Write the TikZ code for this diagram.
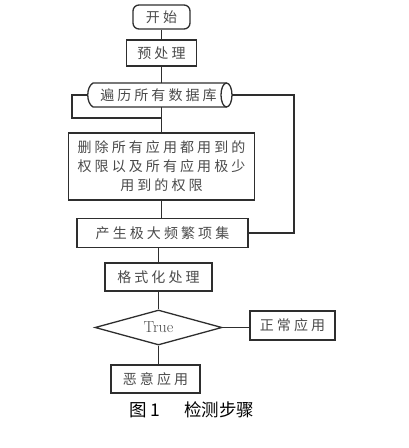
\documentclass[tikz,border=0pt]{standalone}
\usepackage{fontspec}
\newfontfamily\cjk[LetterSpace=22]{Noto Sans CJK SC}
\newfontfamily\cjkcap{Noto Sans CJK SC}
\usetikzlibrary{shapes.geometric}
\definecolor{ln}{HTML}{2E2E2E}
\definecolor{tx}{HTML}{4A4A4A}
\tikzset{
  line/.style={draw=ln, line width=1.3pt},
  box/.style={line, rectangle, inner sep=0pt, text=tx, font=\cjk\fontsize{14}{19}\selectfont, align=center},
  txt/.style={inner sep=0pt, text=tx, font=\cjk\fontsize{14}{19}\selectfont},
}
\begin{document}
\begin{tikzpicture}[x=1pt,y=-1pt]
\useasboundingbox (0,0) rectangle (409,448);
\node[box, rounded corners=6pt, minimum width=57pt, minimum height=24pt] (start) at (161.5,17) {开始};
\node[box, minimum width=70pt, minimum height=26pt] (pre) at (161.5,53) {预处理};
% cylinder
\coordinate (cylW) at (87,95);
\coordinate (cylE) at (232,95);
\coordinate (cylT) at (161.5,83);
\coordinate (cylB) at (161.5,107);
\draw[line] (226.5,83) -- (93,83) .. controls (86,87) and (86,103) .. (93,107) -- (226.5,107);
\draw[line] (226.5,95) ellipse [x radius=5.5pt, y radius=12pt];
\node[txt] (cyl) at (158.5,95) {遍历所有数据库};
\node[box, minimum width=186pt, minimum height=67pt] (del) at (161.5,166.5) {删除所有应用都用到的\\权限以及所有应用极少\\用到的权限};
\node[box, minimum width=171pt, minimum height=29pt] (gen) at (162.5,233) {产生极大频繁项集};
\node[box, minimum width=107pt, minimum height=28pt] (fmt) at (158.5,277) {格式化处理};
\node[line, diamond, aspect=3.6, inner sep=0pt, minimum width=127pt, minimum height=35pt, text=tx, font=\fontsize{16}{18}\selectfont] (dec) at (158.5,327.5) {True};
\node[box, minimum width=85pt, minimum height=29pt] (normal) at (292.5,325.5) {正常应用};
\node[box, minimum width=89pt, minimum height=28pt] (mal) at (155.5,379) {恶意应用};
\node[inner sep=0pt, font=\cjkcap\fontsize{17.5}{20}\selectfont] (cap) at (192,410) {图\,1\hspace{1.4em}检测步骤};
% connectors
\draw[line] (start.south) -- (pre.north);
\draw[line] (pre.south) -- (cylT);
\draw[line] (cylB) -- (del.north);
\draw[line] (del.south) -- (del.south |- gen.north);
\draw[line] (fmt.north |- gen.south) -- (fmt.north);
\draw[line] (fmt.south) -- (dec.north);
\draw[line] (dec.south) -- (dec.south |- mal.north);
\draw[line] (dec.east) -- (dec.east -| normal.west);
\coordinate (lp) at (72,118);
\draw[line] (cylW) -| (lp) -- (lp -| del.north);
\coordinate (rp) at (294,95);
\draw[line] (cylE) -- (rp) |- (gen.east);
\end{tikzpicture}
\end{document}
